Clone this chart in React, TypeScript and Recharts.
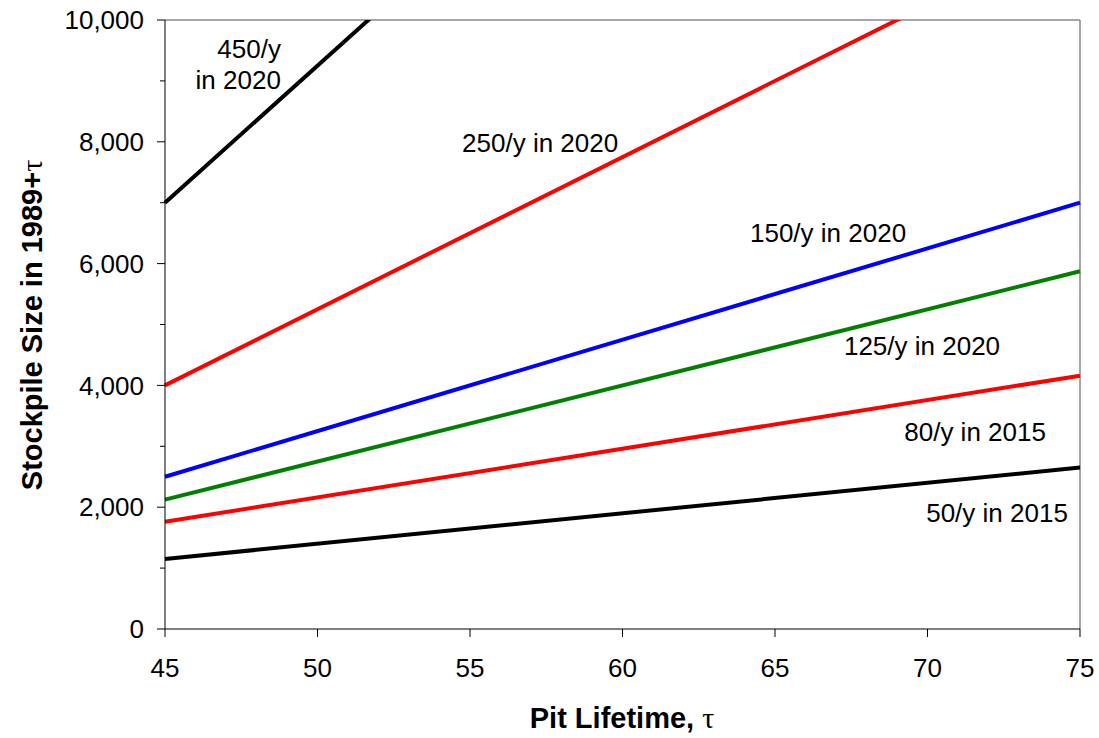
import React from "react";
import { LineChart, Line, XAxis, YAxis, ReferenceLine, ReferenceDot, Label } from "recharts";

const taus = [45, 75];
const rate450 = [7000, 20500];
const rate250 = [4000, 11500];
const rate150 = [2500, 7000];
const rate125 = [2125, 5875];
const rate80 = [1760, 4160];
const rate50 = [1150, 2650];

const xTicks = [45, 50, 55, 60, 65, 70, 75];
const yTicks = [0, 1000, 2000, 3000, 4000, 5000, 6000, 7000, 8000, 9000, 10000];

const labels = [
  { x: 48.8, y: 9530, text: "450/y", anchor: "end" },
  { x: 48.8, y: 9010, text: "in 2020", anchor: "end" },
  { x: 57.3, y: 7980, text: "250/y in 2020", anchor: "middle" },
  { x: 66.74, y: 6500, text: "150/y in 2020", anchor: "middle" },
  { x: 69.82, y: 4647, text: "125/y in 2020", anchor: "middle" },
  { x: 71.56, y: 3235, text: "80/y in 2015", anchor: "middle" },
  { x: 72.28, y: 1905, text: "50/y in 2015", anchor: "middle" },
];

const data = taus.map((t, i) => ({
  tau: t,
  r450: rate450[i],
  r250: rate250[i],
  r150: rate150[i],
  r125: rate125[i],
  r80: rate80[i],
  r50: rate50[i],
}));

const FONT = "'Liberation Sans', Arial, sans-serif";
const TAU_FONT = "'Liberation Serif', 'DejaVu Serif', serif";

const YTick = (props: any) => {
  const { x, y, payload } = props;
  const major = payload.value % 2000 === 0;
  return (
    <g>
      <line x1={x + (major ? 12 : 15)} x2={x + 20} y1={y} y2={y} stroke="#000" />
      {major && (
        <text x={x - 1} y={y} dy="0.35em" textAnchor="end" fontSize={26} fontFamily={FONT} fill="#000">
          {payload.value.toLocaleString("en-US")}
        </text>
      )}
    </g>
  );
};

const XTick = (props: any) => {
  const { x, y, payload } = props;
  return (
    <g>
      <line x1={x} x2={x} y1={y - 20} y2={y - 12} stroke="#000" />
      <text x={x} y={y + 28} textAnchor="middle" fontSize={26} fontFamily={FONT} fill="#000">
        {payload.value}
      </text>
    </g>
  );
};

export default function App() {
  return (
    <div style={{ position: "absolute", left: 0, top: 0, background: "#fff" }}>
      <LineChart width={1099} height={738} data={data} margin={{ top: 20, right: 19, left: 0, bottom: 0 }}>
        <XAxis
          dataKey="tau"
          type="number"
          domain={[45, 75]}
          ticks={xTicks}
          height={109}
          tickSize={8}
          tickMargin={12}
          tickLine={false}
          tick={<XTick />}
          stroke="#000"
          interval={0}
        >
          <Label
            content={() => (
              <text x={622} y={728} textAnchor="middle" fontSize={29} fontWeight="bold" fontFamily={FONT}>
                Pit Lifetime,{" "}
                <tspan fontFamily={TAU_FONT} fontWeight="normal" fontSize={30}>
                  τ
                </tspan>
              </text>
            )}
          />
        </XAxis>
        <YAxis
          type="number"
          domain={[0, 10000]}
          allowDataOverflow
          ticks={yTicks}
          width={165}
          tickSize={8}
          tickMargin={12}
          tickLine={false}
          tick={<YTick />}
          stroke="#000"
          interval={0}
        >
          <Label
            content={() => (
              <text
                x={32}
                y={325}
                dy="0.35em"
                textAnchor="middle"
                fontSize={29}
                fontWeight="bold"
                fontFamily={FONT}
                transform="rotate(-90 32 325)"
              >
                Stockpile Size in 1989+
                <tspan fontFamily={TAU_FONT} fontWeight="normal" fontSize={30}>
                  τ
                </tspan>
              </text>
            )}
          />
        </YAxis>
        <ReferenceLine y={10000} stroke="#888" strokeWidth={1.5} />
        <ReferenceLine x={75} stroke="#888" strokeWidth={1.5} />
        <Line dataKey="r450" stroke="#000" strokeWidth={4} dot={false} isAnimationActive={false} />
        <Line dataKey="r250" stroke="#ff0000" strokeWidth={4} dot={false} isAnimationActive={false} />
        <Line dataKey="r150" stroke="#0000ff" strokeWidth={4} dot={false} isAnimationActive={false} />
        <Line dataKey="r125" stroke="#008000" strokeWidth={4} dot={false} isAnimationActive={false} />
        <Line dataKey="r80" stroke="#ff0000" strokeWidth={4} dot={false} isAnimationActive={false} />
        <Line dataKey="r50" stroke="#000" strokeWidth={4} dot={false} isAnimationActive={false} />
        {labels.map((l) => (
          <ReferenceDot
            key={l.text}
            x={l.x}
            y={l.y}
            r={0}
            stroke="none"
            label={(p: any) => {
              const vb = p.viewBox || {};
              const cx = vb.x + (vb.width || 0) / 2;
              const cy = vb.y + (vb.height || 0) / 2;
              return (
                <text x={cx} y={cy} dy="0.35em" textAnchor={l.anchor} fontSize={26} fontFamily={FONT} fill="#000">
                  {l.text}
                </text>
              );
            }}
          />
        ))}
      </LineChart>
    </div>
  );
}
